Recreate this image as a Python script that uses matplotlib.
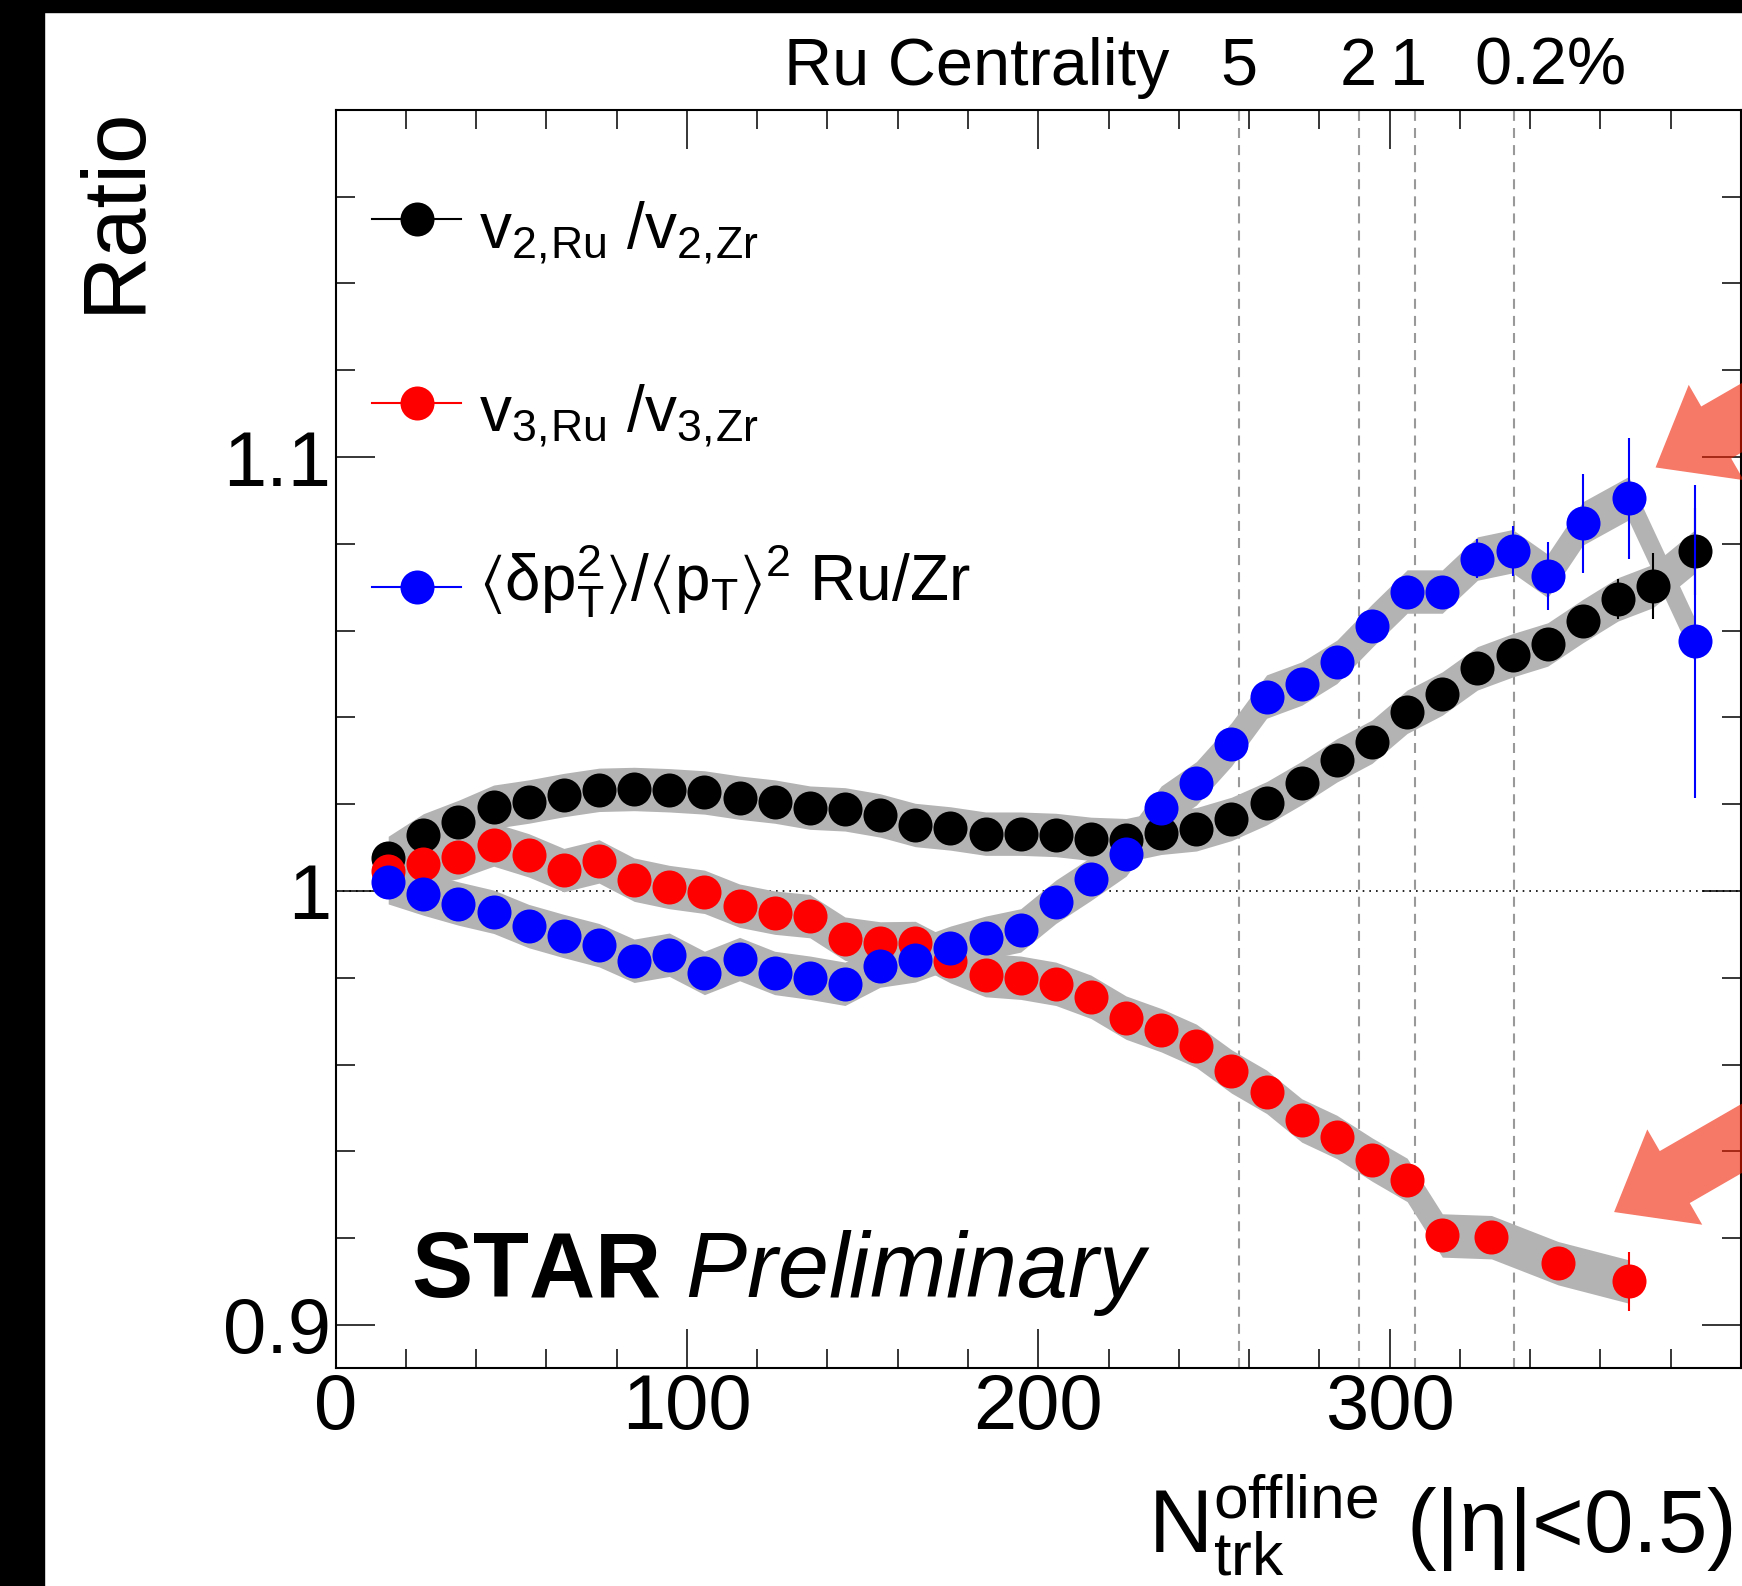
import numpy as np
import matplotlib as mpl
mpl.use("Agg")
from matplotlib import pyplot as plt
from matplotlib.ticker import MultipleLocator, FuncFormatter
from matplotlib.patches import Rectangle
from matplotlib.lines import Line2D

mpl.rcParams.update({
    "font.family": "Liberation Sans",
    "mathtext.fontset": "custom",
    "mathtext.rm": "Liberation Sans",
    "mathtext.it": "Liberation Sans:italic",
    "mathtext.bf": "Liberation Sans:bold",
    "mathtext.sf": "Liberation Sans",
    "mathtext.fallback": "stixsans",
})

############# Data ########
# v2 ratio Ru/Zr
v2_x = [15, 25, 35, 45, 55, 65, 75, 85, 95, 105, 115, 125, 135, 145, 155, 165, 175, 185, 195,
        205, 215, 225, 235, 245, 255, 265, 275, 285, 295, 305, 315, 325, 335, 345, 355, 365, 375, 387]
v2_y = [1.0076, 1.0128, 1.0159, 1.0194, 1.0206, 1.0221, 1.0233, 1.0235, 1.0232, 1.0227, 1.0215,
        1.0206, 1.0192, 1.0188, 1.0174, 1.0152, 1.0144, 1.0132, 1.0132, 1.0129, 1.0120, 1.0117,
        1.0134, 1.0142, 1.0166, 1.0202, 1.0249, 1.0301, 1.0344, 1.0413, 1.0455, 1.0513, 1.0543,
        1.0568, 1.0622, 1.0672, 1.0703, 1.0783]
v2_err = [0.001, 0.001, 0.001, 0.001, 0.001, 0.001, 0.001, 0.001, 0.001, 0.001, 0.001, 0.001,
          0.001, 0.001, 0.001, 0.001, 0.001, 0.001, 0.001, 0.001, 0.001, 0.001, 0.001, 0.001,
          0.001, 0.001, 0.001, 0.001, 0.001, 0.001, 0.001, 0.0015, 0.002, 0.002, 0.003, 0.0046,
          0.0076, 0.010]
v2_sys = 0.005

# v3 ratio Ru/Zr
v3_x = [15, 25, 35, 45, 55, 65, 75, 85, 95, 105, 115, 125, 135, 145, 155, 165, 175, 185, 195,
        205, 215, 225, 235, 245, 255, 265, 275, 285, 295, 305, 315, 329, 348, 368]
v3_y = [1.0045, 1.0063, 1.0078, 1.0107, 1.0082, 1.0048, 1.0068, 1.0026, 1.0009, 0.9998, 0.9966,
        0.9950, 0.9942, 0.9890, 0.9879, 0.9880, 0.9838, 0.9806, 0.9800, 0.9786, 0.9756, 0.9708,
        0.9679, 0.9643, 0.9584, 0.9537, 0.9471, 0.9433, 0.9381, 0.9334, 0.9206, 0.9202, 0.9142,
        0.9100]
v3_err = [0.001, 0.001, 0.001, 0.001, 0.001, 0.001, 0.001, 0.001, 0.001, 0.001, 0.001, 0.001,
          0.001, 0.001, 0.001, 0.001, 0.001, 0.001, 0.001, 0.001, 0.001, 0.001, 0.001, 0.001,
          0.001, 0.001, 0.001, 0.001, 0.002, 0.002, 0.002, 0.003, 0.003, 0.0067]
v3_sys = 0.005

# <delta pT^2>/<pT>^2 ratio Ru/Zr
pt_x = [15, 25, 35, 45, 55, 65, 75, 85, 95, 105, 115, 125, 135, 145, 155, 165, 175, 185, 195,
        205, 215, 225, 235, 245, 255, 265, 275, 285, 295, 305, 315, 325, 335, 345, 355, 368, 387]
pt_y = [1.0020, 0.9994, 0.9971, 0.9952, 0.9919, 0.9896, 0.9875, 0.9839, 0.9853, 0.9811, 0.9843,
        0.9811, 0.9800, 0.9786, 0.9828, 0.9840, 0.9869, 0.9892, 0.9909, 0.9975, 1.0028, 1.0084,
        1.0192, 1.0248, 1.0338, 1.0448, 1.0478, 1.0528, 1.0611, 1.0690, 1.0690, 1.0766, 1.0783,
        1.0726, 1.0847, 1.0905, 1.0575]
pt_err = [0.001, 0.001, 0.001, 0.001, 0.001, 0.001, 0.001, 0.001, 0.001, 0.001, 0.001, 0.001,
          0.001, 0.001, 0.001, 0.001, 0.001, 0.001, 0.001, 0.001, 0.001, 0.001, 0.001, 0.001,
          0.001, 0.001, 0.001, 0.001, 0.001, 0.002, 0.002, 0.0044, 0.0057, 0.0078, 0.0114,
          0.014, 0.036]
pt_sys = 0.005

# centrality markers on top
cent_x = [257.2, 291.2, 307.2, 335.3]
cent_labels = ["5", "2", "1", "0.2%"]

# arrow tips (data coords)
arrow_tips = [(375.7, 1.0976), (363.9, 0.9260)]

series = [
    (v2_x, v2_y, v2_err, v2_sys, "black",
     r"$\mathrm{v}_{2,\!\mathrm{Ru}}\ /\mathrm{v}_{2,\!\mathrm{Zr}}$"),
    (v3_x, v3_y, v3_err, v3_sys, "red",
     r"$\mathrm{v}_{3,\!\mathrm{Ru}}\ /\mathrm{v}_{3,\!\mathrm{Zr}}$"),
    (pt_x, pt_y, pt_err, pt_sys, "blue",
     r"$\langle\mathrm{\delta p}_{\mathrm{T}}^{2}\rangle/\langle\mathrm{p}_{\mathrm{T}}\rangle^{2}$ Ru/Zr"),
]

############# Plotting ########
fig = plt.figure(figsize=(17.42, 15.86), dpi=100)
ax = fig.add_axes([0.1926, 0.1373, 0.8068, 0.7934])

# black frame strips of the original screenshot
fig.patches.append(Rectangle((0, 0), 44 / 1742, 1, transform=fig.transFigure,
                             color="black", zorder=-5))
fig.patches.append(Rectangle((0, 1 - 12 / 1586), 1, 12 / 1586, transform=fig.transFigure,
                             color="black", zorder=-5))

ax.set_xlim(0, 400)
ax.set_ylim(0.89, 1.18)

# reference lines
ax.axhline(1.0, color="black", lw=1.2, ls=(0, (1, 3)), zorder=1)
for xc in cent_x:
    ax.axvline(xc, color="#999999", lw=1.5, ls=(0, (4.8, 3.4)), zorder=1)

# systematic bands first, then points
for x, y, e, s, c, lab in series:
    x = np.array(x)
    y = np.array(y)
    ax.fill_between(x, y - s, y + s, color="#b3b3b3", lw=0, zorder=2)

for i, (x, y, e, s, c, lab) in enumerate(series):
    ax.errorbar(x, y, yerr=e, fmt="o", color=c, ms=24.5, mew=0, elinewidth=1.5,
                capsize=0, zorder=3 + 0.1 * i)

# legend drawn by hand (ROOT style)
leg_rows = [0.9134, 0.7674, 0.6212]
leg_base = [-0.0222, -0.0217, -0.0106]
for (x, y, e, s, c, lab), ry, db in zip(series, leg_rows, leg_base):
    ax.add_line(Line2D([0.0258, 0.0894], [ry, ry], transform=ax.transAxes, color=c,
                       lw=1.5, clip_on=False, zorder=5))
    ax.add_line(Line2D([0.0578], [ry], transform=ax.transAxes, color=c, marker="o",
                       ms=24.5, mew=0, ls="none", clip_on=False, zorder=5))
    ax.text(0.1020, ry + db, lab, transform=ax.transAxes, fontsize=46,
            ha="left", va="baseline", zorder=5)

# ticks
ax.xaxis.set_major_locator(MultipleLocator(100))
ax.xaxis.set_minor_locator(MultipleLocator(20))
ax.yaxis.set_major_locator(MultipleLocator(0.1))
ax.yaxis.set_minor_locator(MultipleLocator(0.02))
ax.xaxis.set_major_formatter(FuncFormatter(lambda v, p: "" if v > 350 else f"{v:g}"))
ax.yaxis.set_major_formatter(FuncFormatter(lambda v, p: f"{round(v, 2):g}"))
ax.tick_params(which="both", direction="in", top=True, right=True, width=1.1,
               labelsize=56, pad=3)
ax.tick_params(which="major", length=28)
ax.tick_params(which="minor", length=14)
for sp in ax.spines.values():
    sp.set_linewidth(1.5)

# axis titles
ax.text(0.9943, -0.1468, r"$\mathrm{N}_{\mathrm{trk}}^{\mathrm{offline}}$ (|η|<0.5)",
        transform=ax.transAxes, fontsize=64, ha="right", va="baseline")
ax.text(-0.140, 1.0036, "Ratio", transform=ax.transAxes, fontsize=64, rotation=90,
        rotation_mode="anchor", ha="right", va="baseline")

# centrality labels
ax.annotate("Ru Centrality", xy=(237.5, 1.0199), xycoords=("data", "axes fraction"),
            fontsize=48, ha="right", va="baseline", annotation_clip=False)
cent_dx = [0, 0, -6, -39]
cent_ha = ["center", "center", "center", "left"]
for xc, lab, dx, ha in zip(cent_x, cent_labels, cent_dx, cent_ha):
    ax.annotate(lab, xy=(xc, 1.0199), xycoords=("data", "axes fraction"),
                xytext=(dx, 0), textcoords="offset pixels",
                fontsize=48, ha=ha, va="baseline", annotation_clip=False)

# STAR Preliminary
ax.text(0.0540, 0.0569, r"$\mathbf{STAR}$ $\mathit{Preliminary}$", transform=ax.transAxes,
        fontsize=66, ha="left", va="baseline", zorder=5)

# big arrows
for tip in arrow_tips:
    ax.annotate("", xy=tip, xycoords="data", xytext=(300, 173), textcoords="offset pixels",
                arrowprops=dict(arrowstyle="simple,head_length=50.4,head_width=79.2,tail_width=43.2",
                                mutation_scale=1, fc="#f01e00", ec="none", alpha=0.6,
                                shrinkA=0, shrinkB=0),
                annotation_clip=False, zorder=6)

fig.savefig("out.png", dpi=100)
